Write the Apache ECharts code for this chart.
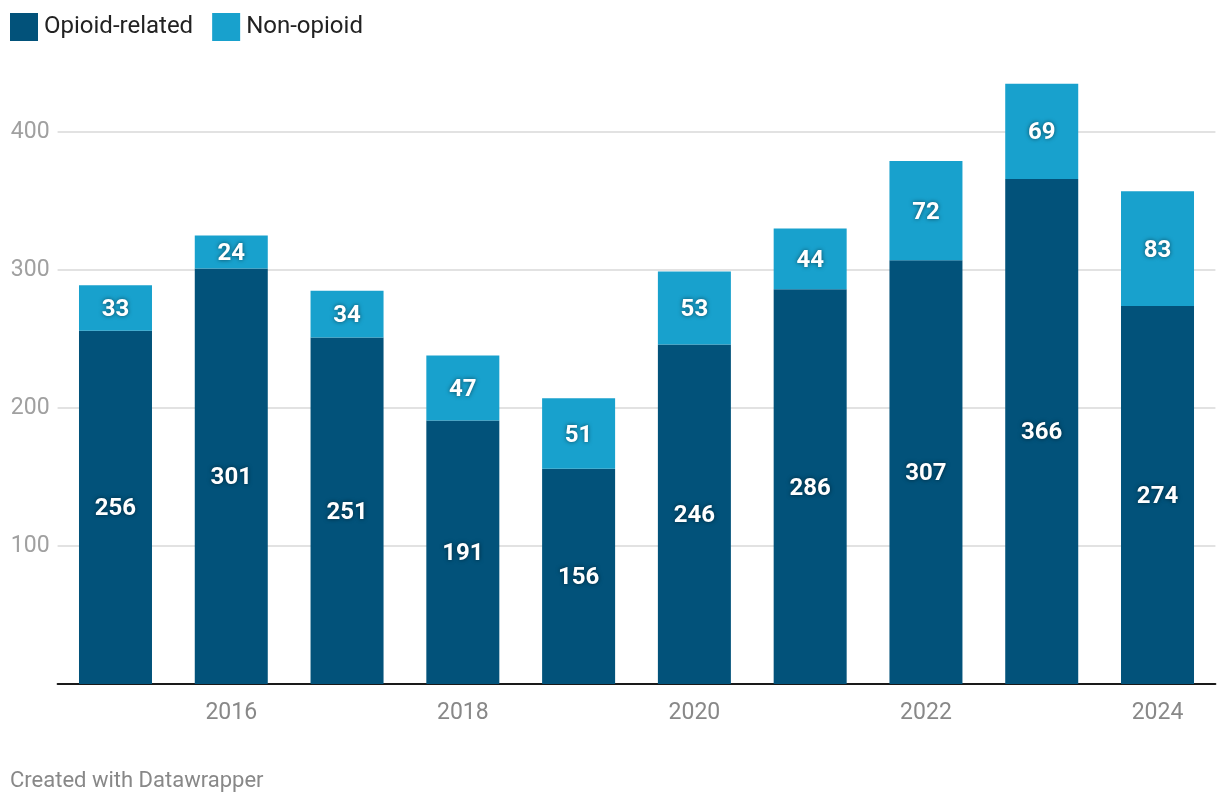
<!DOCTYPE html>
<html>
<head>
<meta charset="utf-8">
<script src="https://cdn.jsdelivr.net/npm/echarts@6/dist/echarts.min.js"></script>
<style>
html,body{margin:0;padding:0;background:#fff;}
#chart{width:1220px;height:808px;}
</style>
</head>
<body>
<div id="chart"></div>
<script>
const years = ['2015','2016','2017','2018','2019','2020','2021','2022','2023','2024'];
const opioid = [256, 301, 251, 191, 156, 246, 286, 307, 366, 274];
const nonOpioid = [33, 24, 34, 47, 51, 53, 44, 72, 69, 83];
const seriesNames = ['Opioid-related', 'Non-opioid'];
const colors = ['#02527a', '#18a1cd'];

const chart = echarts.init(document.getElementById('chart'));
const labelStyle = {
  show: true,
  position: 'inside',
  offset: [0, 2],
  color: '#fff',
  fontFamily: 'Roboto',
  fontWeight: 'bold',
  fontSize: 24,
  textShadowColor: 'rgba(0,0,0,0.55)',
  textShadowBlur: 4
};
chart.setOption({
  animation: false,
  textStyle: { fontFamily: 'Roboto' },
  legend: {
    left: 10, top: 13, padding: 0,
    itemWidth: 28, itemHeight: 28, itemGap: 19,
    icon: 'rect',
    textStyle: { fontSize: 24, color: '#222', fontFamily: 'Roboto', padding: [0, 0, 0, 1] },
    data: seriesNames
  },
  grid: { left: 57.6, right: 4.6, top: 76.8, bottom: 124, containLabel: false },
  xAxis: {
    type: 'category',
    data: years,
    axisLine: { show: true, lineStyle: { color: '#1a1a1a', width: 2 } },
    axisTick: { show: false },
    axisLabel: {
      color: '#888', fontSize: 23, margin: 18, fontFamily: 'Roboto',
      interval: 0,
      formatter: v => (parseInt(v) % 2 === 0 ? v : '')
    }
  },
  yAxis: {
    type: 'value',
    min: 0, max: 440, interval: 100,
    axisLine: { show: false },
    axisTick: { show: false },
    axisLabel: {
      color: '#a0a0a0', fontSize: 23, margin: 8, fontFamily: 'Roboto',
      showMinLabel: false, showMaxLabel: false,
      formatter: v => (v % 100 === 0 && v > 0 ? String(v) : '')
    },
    splitLine: { show: true, showMinLine: false, showMaxLine: false, lineStyle: { color: '#e2e2e2', width: 2 } }
  },
  series: [
    {
      name: seriesNames[0], type: 'bar', stack: 'total', data: opioid,
      barWidth: 73, itemStyle: { color: colors[0] }, label: labelStyle
    },
    {
      name: seriesNames[1], type: 'bar', stack: 'total', data: nonOpioid,
      barWidth: 73, itemStyle: { color: colors[1] }, label: labelStyle
    }
  ],
  graphic: [{
    type: 'text', left: 10, top: 770,
    style: { text: 'Created with Datawrapper', fill: '#888', fontSize: 22, fontFamily: 'Roboto' }
  }]
});
</script>
</body>
</html>
